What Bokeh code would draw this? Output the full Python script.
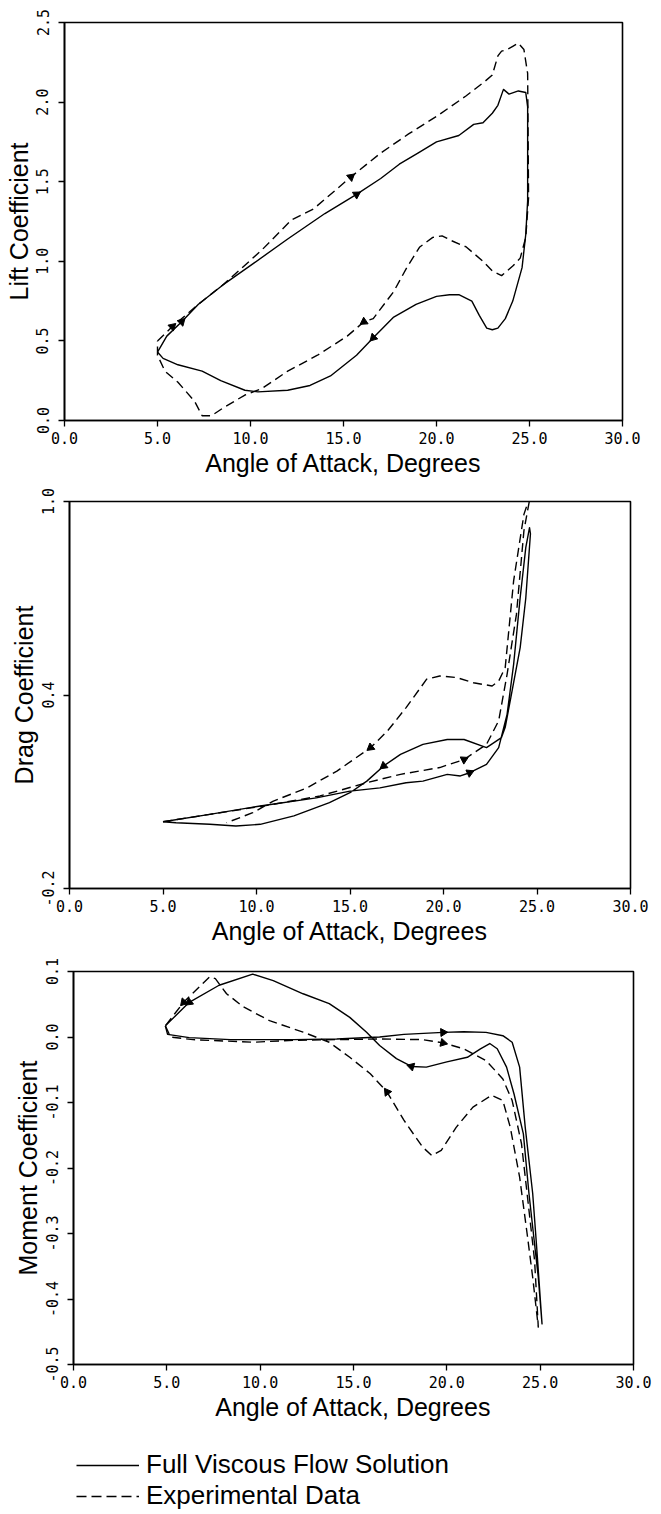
import numpy as np
from bokeh.plotting import figure
from bokeh.models import FixedTicker, PrintfTickFormatter, Legend, LegendItem, Range1d
from bokeh.layouts import column, row
from bokeh.embed import file_html
from bokeh.resources import INLINE

# ---------------- data ----------------
x_ticks = [0, 5, 10, 15, 20, 25, 30]

lift_ticks = [0.0, 0.5, 1.0, 1.5, 2.0, 2.5]
lift_sol_a = [5.0, 5.5, 6.3, 7.2, 8.5, 10.2, 12.0, 14.0, 15.7, 17.0, 18.0, 19.0, 20.0, 21.2, 22.0, 22.5,
              23.0, 23.3, 23.6, 23.9, 24.4, 24.8, 24.9, 24.9, 24.8, 24.6, 24.1, 23.7, 23.3, 23.0, 22.7,
              22.3, 21.9, 21.2, 20.7, 20.0, 18.9, 17.7, 16.6, 15.7, 14.3, 13.2, 12.0, 10.4, 9.7, 8.4,
              7.4, 6.1, 5.3, 5.0]
lift_sol_c = [0.43, 0.53, 0.62, 0.73, 0.85, 0.99, 1.14, 1.30, 1.42, 1.52, 1.61, 1.68, 1.75, 1.79, 1.86, 1.87,
              1.93, 1.98, 2.08, 2.05, 2.07, 2.06, 1.97, 1.38, 1.17, 0.96, 0.75, 0.64, 0.58, 0.57, 0.58,
              0.66, 0.75, 0.79, 0.79, 0.78, 0.73, 0.65, 0.52, 0.41, 0.28, 0.22, 0.19, 0.18, 0.19, 0.25,
              0.31, 0.35, 0.39, 0.43]
lift_sol_arrows = [2, 8, 38]
lift_exp_a = [5.0, 5.8, 6.5, 7.2, 8.6, 10.6, 12.2, 13.4, 15.4, 17.0, 18.5, 20.0, 21.6, 22.6, 23.0, 23.3,
              23.5, 23.8, 24.1, 24.4, 24.7, 24.9, 24.95, 24.8, 24.5, 24.1, 23.6, 23.5, 23.0, 22.5, 21.6,
              20.8, 20.3, 19.8, 19.1, 18.4, 17.7, 16.6, 16.1, 15.2, 13.6, 12.0, 10.6, 9.7, 8.6, 7.9,
              7.4, 7.0, 6.1, 5.4, 5.0, 5.0]
lift_exp_c = [0.50, 0.59, 0.66, 0.73, 0.86, 1.07, 1.26, 1.33, 1.53, 1.68, 1.80, 1.91, 2.04, 2.13, 2.17, 2.29,
              2.32, 2.33, 2.35, 2.37, 2.33, 2.18, 1.40, 1.15, 1.02, 0.97, 0.92, 0.91, 0.94, 1.00, 1.09,
              1.13, 1.16, 1.15, 1.09, 0.96, 0.81, 0.64, 0.62, 0.53, 0.41, 0.31, 0.20, 0.16, 0.084, 0.03,
              0.03, 0.12, 0.24, 0.31, 0.41, 0.50]
lift_exp_arrows = [1, 8, 38]

drag_ticks = [-0.2, 0.4, 1.0]
drag_sol_a = [5.0, 7.5, 10.2, 13.2, 15.0, 16.6, 18.0, 18.9, 20.2, 20.9, 21.4, 22.3, 22.95, 23.4, 23.75, 24.1,
              24.4, 24.6, 24.65, 24.4, 24.1, 23.6, 23.3, 23.1, 22.3, 21.1, 20.2, 18.9, 17.7, 16.8, 15.9,
              15.0, 13.9, 12.0, 10.2, 8.9, 7.5, 5.7, 5.0]
drag_sol_c = [0.007, 0.030, 0.056, 0.081, 0.102, 0.112, 0.128, 0.133, 0.154, 0.149, 0.159, 0.185, 0.237,
              0.340, 0.495, 0.702, 0.857, 0.919, 0.90, 0.70, 0.547, 0.392, 0.30, 0.268, 0.237, 0.262,
              0.262, 0.247, 0.216, 0.18, 0.133, 0.097, 0.066, 0.025, -0.001, -0.006, -0.001, 0.004, 0.007]
drag_sol_arrows = [10, 29]
drag_exp_a = [5.0, 7.5, 10.7, 13.4, 15.9, 17.7, 19.8, 21.1, 22.3, 22.95, 23.4, 23.9, 24.3, 24.65, 24.3,
              23.75, 23.3, 22.95, 22.6, 21.6, 20.7, 19.8, 19.1, 18.0, 17.0, 16.1, 14.3, 12.7, 10.9, 9.8, 8.4]
drag_exp_c = [0.007, 0.030, 0.059, 0.087, 0.128, 0.154, 0.175, 0.200, 0.247, 0.320, 0.464, 0.650, 0.909,
              1.02, 0.96, 0.754, 0.485, 0.443, 0.428, 0.438, 0.454, 0.459, 0.449, 0.361, 0.288, 0.237,
              0.164, 0.112, 0.071, 0.035, 0.004]
drag_exp_arrows = [7, 25]

mom_ticks = [-0.5, -0.4, -0.3, -0.2, -0.1, 0.0, 0.1]
mom_sol_a = [4.92, 5.04, 6.2, 8.4, 11.8, 14.1, 16.4, 17.7, 19.8, 20.9, 22.1, 23.0, 23.5, 23.9, 24.2, 24.6,
             24.8, 25.1, 24.9, 24.7, 24.4, 24.1, 23.6, 23.2, 22.7, 22.3, 21.8, 21.1, 20.0, 18.9, 18.1,
             17.3, 16.4, 15.7, 14.8, 13.7, 12.3, 10.7, 9.6, 7.8, 6.2, 4.92]
mom_sol_c = [0.017, 0.004, -0.001, -0.004, -0.004, -0.003, 0.0, 0.004, 0.007, 0.008, 0.007, 0.002, -0.008,
             -0.046, -0.138, -0.239, -0.316, -0.438, -0.367, -0.316, -0.239, -0.148, -0.087, -0.046,
             -0.018, -0.010, -0.018, -0.031, -0.038, -0.046, -0.045, -0.033, -0.013, 0.0074, 0.030,
             0.051, 0.066, 0.086, 0.096, 0.079, 0.053, 0.017]
mom_sol_arrows = [8, 30, 40]
mom_exp_a = [4.92, 5.2, 6.4, 9.6, 11.8, 14.1, 16.4, 18.7, 19.8, 20.9, 22.1, 23.0, 23.5, 24.0, 24.3, 24.7,
             24.9, 24.6, 24.3, 23.9, 23.4, 23.0, 22.4, 21.4, 20.5, 19.7, 19.2, 18.7, 17.7, 16.8, 15.9,
             14.8, 13.7, 12.3, 10.5, 9.1, 8.2, 7.6, 7.3, 6.9, 5.9, 4.92]
mom_exp_c = [0.017, 0.0, -0.004, -0.008, -0.005, -0.004, -0.003, -0.004, -0.009, -0.018, -0.036, -0.064,
             -0.097, -0.163, -0.239, -0.341, -0.443, -0.367, -0.30, -0.214, -0.138, -0.097, -0.089,
             -0.107, -0.138, -0.173, -0.181, -0.168, -0.127, -0.084, -0.056, -0.031, -0.008, 0.0074,
             0.025, 0.046, 0.066, 0.089, 0.092, 0.081, 0.053, 0.017]
mom_exp_arrows = [8, 29, 40]

x_label = "Angle of Attack, Degrees"
legend_labels = ["Full Viscous Flow Solution", "Experimental Data"]

# ---------------- styling ----------------
W = 661
TICK_FONT = "DejaVu Sans Mono"
LABEL_FONT = "Liberation Sans"
DASH = "9 5"


def make_fig(height, left, right, top, bottom, yr, yticks, ylabel):
    p = figure(width=W, height=height, output_backend="svg", toolbar_location=None,
               x_range=Range1d(0, 30), y_range=Range1d(*yr),
               min_border_left=left, min_border_right=right,
               min_border_top=top, min_border_bottom=bottom)
    p.grid.visible = False
    p.outline_line_color = "black"
    p.outline_line_width = 1.6
    p.background_fill_color = "white"
    p.border_fill_color = "white"
    for ax in (p.xaxis[0], p.yaxis[0]):
        ax.axis_line_width = 1.6
        ax.axis_line_color = "black"
        ax.major_tick_line_color = "black"
        ax.major_tick_line_width = 1.3
        ax.major_tick_in = 0
        ax.major_tick_out = 6
        ax.minor_tick_line_color = None
        ax.major_label_text_font = TICK_FONT
        ax.major_label_text_font_size = "15px"
        ax.major_label_text_color = "black"
        ax.axis_label_text_font = LABEL_FONT
        ax.axis_label_text_font_size = "25px"
        ax.axis_label_text_font_style = "normal"
        ax.axis_label_text_color = "black"
        ax.formatter = PrintfTickFormatter(format="%.1f")
    p.xaxis.ticker = FixedTicker(ticks=x_ticks)
    p.yaxis.ticker = FixedTicker(ticks=yticks)
    p.yaxis.major_label_orientation = "vertical"
    p.xaxis.major_label_standoff = 5
    p.yaxis.major_label_standoff = 10
    p.xaxis.axis_label_standoff = 2
    p.yaxis.axis_label_standoff = 1
    p.xaxis.axis_label = x_label
    p.yaxis.axis_label = ylabel
    return p


def draw(p, xs, ys, arrows, dash, frame_w, frame_h, yr):
    kw = dict(line_color="black", line_width=1.4, line_join="round")
    if dash:
        kw["line_dash"] = DASH
    r = p.line(xs, ys, **kw)
    sx = frame_w / 30.0
    sy = frame_h / (yr[1] - yr[0])
    ax, ay, ang = [], [], []
    for i in arrows:
        dx = (xs[i + 1] - xs[i - 1]) * sx
        dy = (ys[i + 1] - ys[i - 1]) * sy
        ang.append(float(np.arctan2(dy, dx) - np.pi / 2))
        ax.append(xs[i])
        ay.append(ys[i])
    p.scatter(ax, ay, marker="triangle", size=8, angle=ang,
              fill_color="black", line_color="black", line_width=1)
    return r


# plot 1: lift
l1, r1, t1, b1, h1 = 64, 39, 22, 60, 480
yr1 = (0.0, 2.5)
p1 = make_fig(h1, l1, r1, t1, b1, yr1, lift_ticks, "Lift Coefficient")
fw1, fh1 = W - l1 - r1, h1 - t1 - b1
draw(p1, lift_sol_a, lift_sol_c, lift_sol_arrows, False, fw1, fh1, yr1)
draw(p1, lift_exp_a, lift_exp_c, lift_exp_arrows, True, fw1, fh1, yr1)

# plot 2: drag
l2, r2, t2, b2, h2 = 69, 31, 21, 60, 468
yr2 = (-0.2, 1.0)
p2 = make_fig(h2, l2, r2, t2, b2, yr2, drag_ticks, "Drag Coefficient")
fw2, fh2 = W - l2 - r2, h2 - t2 - b2
draw(p2, drag_sol_a, drag_sol_c, drag_sol_arrows, False, fw2, fh2, yr2)
draw(p2, drag_exp_a, drag_exp_c, drag_exp_arrows, True, fw2, fh2, yr2)

# plot 3: moment
l3, r3, t3, b3, h3 = 73, 28, 23, 60, 476
yr3 = (-0.5, 0.1)
p3 = make_fig(h3, l3, r3, t3, b3, yr3, mom_ticks, "Moment Coefficient")
fw3, fh3 = W - l3 - r3, h3 - t3 - b3
draw(p3, mom_sol_a, mom_sol_c, mom_sol_arrows, False, fw3, fh3, yr3)
draw(p3, mom_exp_a, mom_exp_c, mom_exp_arrows, True, fw3, fh3, yr3)

# legend strip
p4 = figure(width=W, height=90, output_backend="svg", toolbar_location=None,
            x_range=Range1d(0, 1), y_range=Range1d(0, 1),
            min_border_left=0, min_border_right=0, min_border_top=0, min_border_bottom=0,
            x_axis_location=None, y_axis_location=None)
p4.grid.visible = False
p4.outline_line_color = None
nan2 = [np.nan, np.nan]
rs = p4.line(nan2, nan2, line_color="black", line_width=1.3)
re = p4.line(nan2, nan2, line_color="black", line_width=1.3, line_dash="10 5")
leg = Legend(items=[LegendItem(label=legend_labels[0], renderers=[rs]),
                    LegendItem(label=legend_labels[1], renderers=[re])],
             location=(76, 3), orientation="vertical",
             glyph_width=63, glyph_height=22, label_standoff=7, spacing=-4,
             padding=0, margin=0, border_line_color=None, background_fill_alpha=0,
             label_text_font=LABEL_FONT, label_text_font_size="26px",
             label_text_color="black", label_height=22)
p4.add_layout(leg)

layout = column(row(p1), row(p2), row(p3), row(p4), spacing=0)
open("out.html", "w").write(file_html(layout, INLINE))
